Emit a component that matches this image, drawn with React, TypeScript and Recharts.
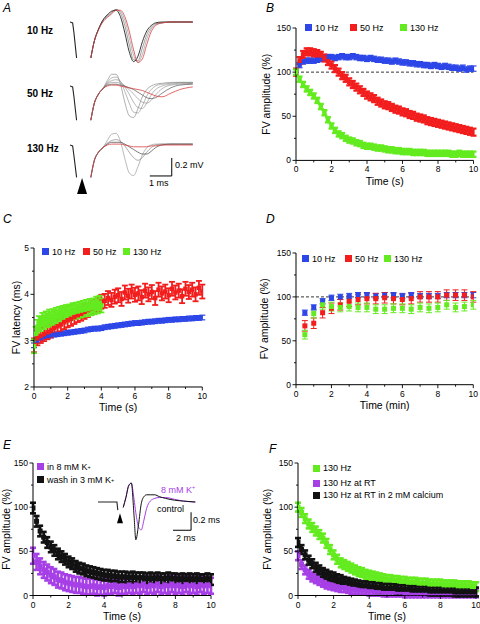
import React from 'react';
import {
  ScatterChart, Scatter, XAxis, YAxis, ErrorBar, ReferenceLine, ReferenceDot, LineChart, Line,
} from 'recharts';

const FONT = 'Arial, "Liberation Sans", Helvetica, sans-serif';

const BLUE = '#2c46e8';
const RED = '#f21d1d';
const GREEN = '#63eb1f';
const PURPLE = '#a640e6';
const BLACK = '#121212';

// ---- time bases ----
const time02 = [0, 0.2, 0.4, 0.6, 0.8, 1, 1.2, 1.4, 1.6, 1.8, 2, 2.2, 2.4, 2.6, 2.8, 3, 3.2, 3.4, 3.6, 3.8,
  4, 4.2, 4.4, 4.6, 4.8, 5, 5.2, 5.4, 5.6, 5.8, 6, 6.2, 6.4, 6.6, 6.8, 7, 7.2, 7.4, 7.6, 7.8,
  8, 8.2, 8.4, 8.6, 8.8, 9, 9.2, 9.4, 9.6, 9.8, 10];
const time01to4 = [0, 0.1, 0.2, 0.3, 0.4, 0.5, 0.6, 0.7, 0.8, 0.9, 1, 1.1, 1.2, 1.3, 1.4, 1.5, 1.6, 1.7, 1.8, 1.9,
  2, 2.1, 2.2, 2.3, 2.4, 2.5, 2.6, 2.7, 2.8, 2.9, 3, 3.1, 3.2, 3.3, 3.4, 3.5, 3.6, 3.7, 3.8, 3.9, 4];
const timeMin = [0.5, 1, 1.5, 2, 2.5, 3, 3.5, 4, 4.5, 5, 5.5, 6, 6.5, 7, 7.5, 8, 8.5, 9, 9.5, 10];

// ---- B: FV amplitude (%) during trains ----
const ampB10 = [100, 108, 112, 113, 113, 113, 114, 115, 116, 117, 117, 116, 117, 118, 117, 117, 118, 117, 116, 116,
  115, 116, 115, 114, 114, 113, 113, 112, 113, 112, 111, 111, 110, 110, 109, 109, 108, 108, 107, 108,
  107, 106, 107, 106, 105, 105, 104, 105, 103, 104, 104];
const ampB50 = [100, 113, 120, 123, 123, 122, 121, 119, 116, 112, 108, 104, 100, 96, 93, 89, 86, 83, 80, 77,
  74, 72, 70, 67, 65, 63, 62, 60, 58, 57, 55, 54, 52, 51, 49, 48, 47, 45, 44, 43,
  42, 41, 40, 39, 38, 37, 36, 35, 34, 33, 32];
const ampB130 = [100, 92, 86, 81, 77, 73, 68, 61, 54, 46, 39, 34, 30, 28, 25, 23, 22, 20, 19, 17,
  16, 16, 15, 14, 14, 13, 12, 12, 11, 11, 10, 10, 10, 9, 9, 9, 9, 8, 8, 8,
  8, 8, 8, 8, 7, 7, 8, 7, 7, 7, 7];

// ---- C: FV latency (ms) ----
const latC10 = [2.9, 3.0, 3.05, 3.08, 3.1, 3.11, 3.13, 3.14, 3.15, 3.16, 3.17, 3.18, 3.19, 3.2, 3.21, 3.22, 3.24, 3.25, 3.26, 3.26,
  3.27, 3.29, 3.3, 3.31, 3.32, 3.33, 3.34, 3.35, 3.36, 3.37, 3.38, 3.38, 3.39, 3.4, 3.41, 3.41, 3.42, 3.43, 3.43, 3.44,
  3.45, 3.45, 3.46, 3.46, 3.47, 3.47, 3.48, 3.48, 3.49, 3.49, 3.5];
const latC50 = [2.9, 3.05, 3.1, 3.14, 3.18, 3.22, 3.27, 3.31, 3.35, 3.4, 3.44, 3.47, 3.51, 3.55, 3.58, 3.62, 3.66, 3.7, 3.74, 3.78,
  3.84, 3.86, 3.92, 3.88, 3.95, 3.98, 3.9, 4.04, 3.97, 4.06, 3.99, 4.02, 3.94, 4.08, 4.0, 4.05, 3.92, 4.1, 4.02, 4.06,
  3.98, 4.12, 4.04, 4.08, 3.96, 4.12, 4.05, 4.1, 4.0, 4.14, 4.06];
const latC130 = [2.88, 3.15, 3.3, 3.38, 3.35, 3.45, 3.4, 3.48, 3.44, 3.52, 3.47, 3.53, 3.5, 3.56, 3.51, 3.58, 3.54, 3.6, 3.56, 3.62,
  3.58, 3.63, 3.6, 3.66, 3.62, 3.67, 3.63, 3.69, 3.65, 3.71, 3.67, 3.73, 3.68, 3.75, 3.7, 3.76, 3.72, 3.8, 3.74, 3.82, 3.76];

// ---- D: recovery (%) ----
const recD10 = [82, 88, 95, 99, 100, 101, 102, 102, 101, 102, 102, 101, 102, 101, 101, 101, 102, 102, 102, 102];
const recD50 = [67, 70, 82, 87, 91, 95, 97, 98, 98, 99, 98, 97, 98, 100, 100, 100, 102, 102, 102, 100];
const recD130 = [57, 81, 91, 89, 88, 89, 88, 88, 86, 86, 87, 87, 86, 88, 87, 88, 91, 88, 89, 91];

// ---- E: high K+ ----
const ampEWash = [99, 84, 73, 66, 60, 55, 51, 47, 44, 41, 38, 36, 33, 31, 30, 28, 27, 26, 25, 24,
  23, 23, 22, 22, 21, 21, 21, 20, 21, 20, 20, 20, 19, 20, 19, 20, 19, 19, 20, 19,
  19, 18, 19, 18, 19, 18, 19, 18, 18, 19, 18];
const ampEK8 = [45, 38, 33, 29, 26, 23, 21, 18, 17, 15, 14, 13, 12, 12, 11, 10, 10, 11, 9, 10,
  9, 11, 10, 12, 9, 11, 10, 12, 10, 12, 11, 13, 10, 12, 11, 13, 10, 12, 11, 13,
  11, 12, 10, 13, 11, 12, 10, 13, 11, 12, 11];

// ---- F: temperature / calcium ----
const ampF130 = [100, 94, 87, 81, 77, 73, 69, 65, 59, 52, 46, 41, 37, 35, 33, 31, 29, 27, 26, 24,
  23, 22, 21, 20, 19, 18, 18, 17, 17, 16, 16, 15, 15, 15, 14, 14, 14, 13, 13, 13,
  13, 12, 12, 12, 12, 11, 11, 11, 11, 10, 10];
const ampFRT = [45, 35, 29, 24, 21, 19, 17, 15, 13, 12, 11, 10, 9, 9, 8, 7, 7, 6, 6, 6,
  5, 5, 5, 5, 4, 4, 4, 4, 4, 4, 3, 3, 3, 3, 3, 3, 3, 3, 3, 3,
  3, 3, 3, 3, 3, 3, 3, 3, 3, 3, 3];
const ampFCa = [60, 52, 46, 40, 36, 32, 29, 26, 24, 22, 21, 19, 18, 16, 15, 14, 13, 12, 11, 11,
  10, 10, 9, 9, 8, 8, 8, 8, 7, 7, 7, 7, 6, 6, 6, 6, 6, 5, 5, 5,
  5, 5, 5, 5, 4, 4, 4, 4, 4, 4, 4];

// ---- A: field volley traces (ms, mV) ----
const artT = [0, 0.12, 0.18, 0.3];
const traceT = [0.95, 1.1, 1.3, 1.5, 1.7, 1.9, 2.1, 2.3, 2.5, 2.7, 2.9, 3.1, 3.3, 3.5, 3.7, 3.9, 4.2, 4.6, 5.0, 5.6];
const art10 = [0, -0.01, -0.12, -0.4];
const art50 = [0, -0.01, -0.12, -0.38];
const art130 = [0, -0.01, -0.12, -0.36];
const w10a = [-0.4, -0.22, -0.08, 0.02, 0.08, 0.12, 0.13, 0.06, -0.12, -0.33, -0.44, -0.38, -0.22, -0.1, -0.04, -0.01, 0, 0, 0, 0];
const w10b = [-0.4, -0.22, -0.08, 0.02, 0.07, 0.11, 0.14, 0.1, -0.04, -0.25, -0.42, -0.43, -0.29, -0.14, -0.06, -0.02, -0.01, 0, 0, 0];
const w10c = [-0.4, -0.22, -0.08, 0.01, 0.06, 0.1, 0.14, 0.12, 0.02, -0.17, -0.37, -0.45, -0.36, -0.19, -0.08, -0.03, -0.01, 0, 0, 0];
const w10d = [-0.4, -0.22, -0.09, 0.0, 0.05, 0.09, 0.13, 0.13, 0.06, -0.1, -0.31, -0.45, -0.41, -0.25, -0.11, -0.04, -0.01, 0, 0, 0];
const w50a = [-0.38, -0.2, -0.09, -0.03, 0.06, 0.13, 0.13, 0.02, -0.18, -0.33, -0.35, -0.25, -0.12, -0.04, 0.0, 0.02, 0.03, 0.04, 0.04, 0.04];
const w50b = [-0.38, -0.2, -0.09, -0.03, 0.04, 0.09, 0.1, 0.05, -0.06, -0.19, -0.29, -0.3, -0.22, -0.11, -0.04, 0.0, 0.02, 0.03, 0.04, 0.04];
const w50c = [-0.38, -0.2, -0.09, -0.03, 0.03, 0.06, 0.07, 0.05, -0.01, -0.09, -0.18, -0.24, -0.25, -0.19, -0.1, -0.04, 0.0, 0.02, 0.03, 0.03];
const w50d = [-0.38, -0.2, -0.09, -0.03, 0.02, 0.04, 0.04, 0.03, 0.0, -0.04, -0.09, -0.14, -0.18, -0.19, -0.16, -0.1, -0.03, 0.01, 0.02, 0.03];
const w50e = [-0.38, -0.2, -0.09, -0.03, 0.01, 0.02, 0.02, 0.01, 0.0, -0.02, -0.04, -0.07, -0.1, -0.13, -0.14, -0.13, -0.08, -0.02, 0.01, 0.02];
const w50f = [-0.38, -0.2, -0.09, -0.03, 0.0, 0.01, 0.01, 0.0, -0.01, -0.02, -0.03, -0.04, -0.05, -0.07, -0.09, -0.11, -0.12, -0.08, -0.04, -0.01];
const w130a = [-0.36, -0.18, -0.08, -0.03, 0.05, 0.12, 0.13, 0.04, -0.15, -0.31, -0.34, -0.24, -0.11, -0.03, 0.0, 0.01, 0.01, 0.01, 0.01, 0.01];
const w130b = [-0.36, -0.18, -0.08, -0.03, 0.02, 0.05, 0.06, 0.04, -0.01, -0.08, -0.14, -0.17, -0.14, -0.08, -0.03, 0.0, 0.01, 0.01, 0.01, 0.01];
const w130c = [-0.36, -0.18, -0.08, -0.03, 0.01, 0.03, 0.03, 0.03, 0.01, -0.02, -0.05, -0.08, -0.1, -0.1, -0.07, -0.03, 0.0, 0.01, 0.01, 0.01];
const w130d = [-0.36, -0.18, -0.08, -0.03, 0.0, 0.01, 0.01, 0.01, 0.0, -0.01, -0.02, -0.02, -0.02, -0.02, -0.01, -0.01, 0.0, 0.0, 0.0, 0.0];

// ---- E inset traces ----
const insetArtT = [0, 2.1, 2.2];
const insetArt = [0, 0, -0.09];
const insetT = [2.8, 3.1, 3.4, 3.7, 4.0, 4.2, 4.5, 4.8, 5.1, 5.4, 5.8, 6.3, 6.8, 7.5, 8.5, 9.5, 10.8];
const insetCtrl = [-0.06, 0.05, 0.18, 0.21, -0.15, -0.42, -0.25, -0.02, 0.06, 0.08, 0.08, 0.08, 0.06, 0.04, 0.02, 0.01, 0.0];
const insetK8 = [-0.06, 0.05, 0.18, 0.21, 0.03, -0.12, -0.28, -0.31, -0.2, -0.07, 0.01, 0.04, 0.05, 0.05, 0.03, 0.01, 0.0];

const xTicks10 = [0, 1, 2, 3, 4, 5, 6, 7, 8, 9, 10];
const xMajor10 = [0, 2, 4, 6, 8, 10];
const yTicksAmp = [0, 25, 50, 75, 100, 125, 150];
const yMajorAmp = [0, 50, 100, 150];
const yTicksLat = [2, 2.5, 3, 3.5, 4, 4.5, 5];
const yMajorLat = [2, 3, 4, 5];

type Pt = { x: number; y: number; err: number };
type Ser = { key: string; color: string; pts: Pt[]; size: number; errW?: number };

const toPts = (xs: number[], ys: number[], err: number): Pt[] => xs.map((x, i) => ({ x, y: ys[i], err }));
const toRows = (xs: number[], cols: Record<string, number[]>) =>
  xs.map((t, i) => {
    const r: any = { t };
    Object.keys(cols).forEach((k) => { r[k] = cols[k][i]; });
    return r;
  });

const TS = 3;
const TM = 2;

function xTick(majors: number[]) {
  return (p: any) => {
    const v = p.payload.value;
    const major = majors.includes(v);
    const ay = p.y - TS - TM;
    return (
      <g>
        <line x1={p.x} x2={p.x} y1={ay} y2={ay + (major ? 3.5 : 2)} stroke="#000" strokeWidth={0.9} />
        {major && (
          <text x={p.x} y={ay + 12} textAnchor="middle" fontSize={8.5} fontFamily={FONT} fill="#000">{v}</text>
        )}
      </g>
    );
  };
}

function yTick(majors: number[]) {
  return (p: any) => {
    const v = p.payload.value;
    const major = majors.includes(v);
    const ax = p.x + TS + TM;
    return (
      <g>
        <line x1={ax - (major ? 3.5 : 2)} x2={ax} y1={p.y} y2={p.y} stroke="#000" strokeWidth={0.9} />
        {major && (
          <text x={ax - 5} y={p.y + 3} textAnchor="end" fontSize={8.5} fontFamily={FONT} fill="#000">{v}</text>
        )}
      </g>
    );
  };
}

const square = (size: number, color: string) => (p: any) =>
  <rect x={p.cx - size / 2} y={p.cy - size / 2} width={size} height={size} fill={color} />;

interface PanelProps {
  x0: number; y0: number; x1: number; y1: number; yw: number; titleX: number;
  xDomain: [number, number]; yDomain: [number, number];
  yTicks: number[]; yMajor: number[];
  xTitle: string; yTitle: string;
  series: Ser[]; dashed?: boolean;
}

function Panel({ x0, y0, x1, y1, yw, titleX, xDomain, yDomain, yTicks, yMajor, xTitle, yTitle, series, dashed }: PanelProps) {
  const MT = 6, MR = 8, XH = 28;
  const width = x1 - x0 + yw + MR;
  const height = y1 - y0 + MT + XH;
  return (
    <div style={{ position: 'absolute', left: x0 - yw, top: y0 - MT }}>
      <ScatterChart width={width} height={height} margin={{ top: MT, right: MR, bottom: 0, left: 0 }}>
        <XAxis
          type="number" dataKey="x" domain={xDomain} ticks={xTicks10} interval={0} height={XH}
          tick={xTick(xMajor10)} tickLine={false} tickSize={TS} tickMargin={TM}
          axisLine={{ stroke: '#000', strokeWidth: 1 }} allowDataOverflow
          label={{ value: xTitle, position: 'insideBottom', offset: 3.5, fontSize: 10.5, fill: '#000', fontFamily: FONT }}
        />
        <YAxis
          type="number" dataKey="y" domain={yDomain} ticks={yTicks} interval={0} width={yw}
          tick={yTick(yMajor)} tickLine={false} tickSize={TS} tickMargin={TM}
          axisLine={{ stroke: '#000', strokeWidth: 1 }} allowDataOverflow
          label={{
            value: yTitle, angle: -90, position: 'insideLeft', offset: titleX - (x0 - yw),
            fontSize: 10.5, fill: '#000', fontFamily: FONT, style: { textAnchor: 'middle' },
          }}
        />
        {dashed && <ReferenceLine y={100} stroke="#000" strokeWidth={0.8} strokeDasharray="3 2" />}
        {series.map((s) => (
          <Scatter key={s.key} data={s.pts} fill={s.color} shape={square(s.size, s.color)} isAnimationActive={false}>
            <ErrorBar dataKey="err" direction="y" width={3} stroke={s.color} strokeWidth={s.errW ?? 1} />
          </Scatter>
        ))}
      </ScatterChart>
    </div>
  );
}

interface TraceLine { key: string; color: string; w: number }

function Traces({ left, top, width, height, xMax, yDomain, rows, lines, art, children }: {
  left: number; top: number; width: number; height: number; xMax: number; yDomain: [number, number];
  rows: any[]; lines: TraceLine[]; art: { t: number; v: number }[]; children?: React.ReactNode;
}) {
  return (
    <div style={{ position: 'absolute', left, top }}>
      <LineChart width={width} height={height} data={rows} margin={{ top: 0, right: 0, bottom: 0, left: 0 }}>
        <XAxis hide type="number" dataKey="t" domain={[0, xMax]} allowDataOverflow />
        <YAxis hide type="number" domain={yDomain} allowDataOverflow />
        <Line data={art} dataKey="v" type="linear" stroke="#222" strokeWidth={1.1} dot={false} isAnimationActive={false} />
        {lines.map((l) => (
          <Line key={l.key} dataKey={l.key} type="monotone" stroke={l.color} strokeWidth={l.w} dot={false} isAnimationActive={false} />
        ))}
        {children}
      </LineChart>
    </div>
  );
}

const arrow = (w: number, h: number) => (p: any) =>
  <polygon points={`${p.cx},${p.cy} ${p.cx - w / 2},${p.cy + h} ${p.cx + w / 2},${p.cy + h}`} fill="#000" />;

function Txt({ left, top, size = 9, children, style }: { left: number; top: number; size?: number; children: React.ReactNode; style?: React.CSSProperties }) {
  return (
    <div style={{ position: 'absolute', left, top, fontSize: size, lineHeight: 1, whiteSpace: 'nowrap', fontFamily: FONT, color: '#000', ...style }}>
      {children}
    </div>
  );
}

function Key({ left, cy, color, children }: { left: number; cy: number; color: string; children: React.ReactNode }) {
  return (
    <div style={{ position: 'absolute', left, top: cy - 5, height: 10, display: 'flex', alignItems: 'center', fontSize: 9, fontFamily: FONT, whiteSpace: 'nowrap' }}>
      <span style={{ width: 7, height: 7, background: color, display: 'inline-block', marginRight: 3 }} />
      {children}
    </div>
  );
}

const Kp = () => <>K<sup style={{ fontSize: 5.5, verticalAlign: 'super', lineHeight: 0 }}>+</sup></>;

export default function App() {
  const rows10 = toRows(traceT, { a: w10a, b: w10b, c: w10c, d: w10d });
  const rows50 = toRows(traceT, { a: w50a, b: w50b, c: w50c, d: w50d, e: w50e, f: w50f });
  const rows130 = toRows(traceT, { a: w130a, b: w130b, c: w130c, d: w130d });
  const artRows = (v: number[]) => artT.map((t, i) => ({ t, v: v[i] }));
  const insetRows = toRows(insetT, { ctrl: insetCtrl, k8: insetK8 });
  const insetArtRows = insetArtT.map((t, i) => ({ t, v: insetArt[i] }));

  const letter = { fontStyle: 'italic', fontSize: 12 } as React.CSSProperties;

  return (
    <div style={{ position: 'relative', width: 480, height: 624, background: '#fff', overflow: 'hidden', fontFamily: FONT }}>
      <style>{'body{margin:0}'}</style>

      {/* A */}
      <Txt left={3} top={2} style={letter}>A</Txt>
      <Txt left={27} top={25.5} size={10} style={{ fontWeight: 'bold' }}>10 Hz</Txt>
      <Txt left={27} top={88.5} size={10} style={{ fontWeight: 'bold' }}>50 Hz</Txt>
      <Txt left={27} top={143.5} size={10} style={{ fontWeight: 'bold' }}>130 Hz</Txt>
      <Traces left={70} top={4} width={125} height={63} xMax={5.7} yDomain={[-0.5, 0.2]} rows={rows10} art={artRows(art10)}
        lines={[
          { key: 'c', color: '#9a9a9a', w: 0.7 }, { key: 'b', color: '#777', w: 0.7 },
          { key: 'a', color: '#222', w: 0.9 }, { key: 'd', color: '#d94040', w: 0.8 },
        ]} />
      <Traces left={70} top={68} width={125} height={63} xMax={5.7} yDomain={[-0.5, 0.2]} rows={rows50} art={artRows(art50)}
        lines={[
          { key: 'a', color: '#777', w: 0.6 }, { key: 'b', color: '#888', w: 0.6 }, { key: 'c', color: '#888', w: 0.6 },
          { key: 'd', color: '#888', w: 0.6 }, { key: 'e', color: '#555', w: 0.7 }, { key: 'f', color: '#d94040', w: 0.8 },
        ]} />
      <Traces left={70} top={127} width={125} height={72} xMax={5.7} yDomain={[-0.6, 0.2]} rows={rows130} art={artRows(art130)}
        lines={[
          { key: 'a', color: '#8a8a8a', w: 0.6 }, { key: 'b', color: '#777', w: 0.6 },
          { key: 'c', color: '#444', w: 0.7 }, { key: 'd', color: '#d94040', w: 0.8 },
        ]}>
        <ReferenceLine segment={[{ x: 4.64, y: -0.344 }, { x: 4.64, y: -0.144 }]} stroke="#000" strokeWidth={1} />
        <ReferenceLine segment={[{ x: 3.64, y: -0.344 }, { x: 4.64, y: -0.344 }]} stroke="#000" strokeWidth={1} />
        <ReferenceDot x={0.55} y={-0.367} r={0} shape={arrow(10, 16)} />
      </Traces>
      <Txt left={175} top={161} size={9}>0.2 mV</Txt>
      <Txt left={149} top={179} size={9}>1 ms</Txt>

      {/* B */}
      <Txt left={266} top={1.5} style={letter}>B</Txt>
      <Panel x0={296} y0={28.3} x1={473.5} y1={160.7} yw={38} titleX={266}
        xDomain={[0, 10]} yDomain={[0, 150]} yTicks={yTicksAmp} yMajor={yMajorAmp}
        xTitle="Time (s)" yTitle="FV amplitude (%)" dashed
        series={[
          { key: 'b10', color: BLUE, pts: toPts(time02, ampB10, 3), size: 4.5, errW: 1.2 },
          { key: 'b50', color: RED, pts: toPts(time02, ampB50, 4), size: 4.5, errW: 2.2 },
          { key: 'b130', color: GREEN, pts: toPts(time02, ampB130, 3), size: 4.5, errW: 2.2 },
        ]} />
      <Key left={305} cy={27.5} color={BLUE}>10 Hz</Key>
      <Key left={350} cy={27.5} color={RED}>50 Hz</Key>
      <Key left={400} cy={27.5} color={GREEN}>130 Hz</Key>

      {/* C */}
      <Txt left={3} top={212.5} style={letter}>C</Txt>
      <Panel x0={34} y0={247.7} x1={202.3} y1={386.7} yw={32} titleX={16}
        xDomain={[0, 10]} yDomain={[2, 5]} yTicks={yTicksLat} yMajor={yMajorLat}
        xTitle="Time (s)" yTitle="FV latency (ms)"
        series={[
          { key: 'c10', color: BLUE, pts: toPts(time02, latC10, 0.05), size: 4, errW: 1.2 },
          { key: 'c50', color: RED, pts: toPts(time02, latC50, 0.15), size: 4.5, errW: 1.8 },
          { key: 'c130', color: GREEN, pts: toPts(time01to4, latC130, 0.15), size: 4.5, errW: 1.8 },
        ]} />
      <Key left={42} cy={251.5} color={BLUE}>10 Hz</Key>
      <Key left={83} cy={251.5} color={RED}>50 Hz</Key>
      <Key left={123} cy={251.5} color={GREEN}>130 Hz</Key>

      {/* D */}
      <Txt left={266} top={212.5} style={letter}>D</Txt>
      <Panel x0={296} y0={253.3} x1={473.3} y1={385} yw={38} titleX={264}
        xDomain={[0, 10]} yDomain={[0, 150]} yTicks={yTicksAmp} yMajor={yMajorAmp}
        xTitle="Time (min)" yTitle="FV amplitude (%)" dashed
        series={[
          { key: 'd10', color: BLUE, pts: toPts(timeMin, recD10, 3), size: 5 },
          { key: 'd50', color: RED, pts: toPts(timeMin, recD50, 6), size: 5 },
          { key: 'd130', color: GREEN, pts: toPts(timeMin, recD130, 5), size: 5 },
        ]} />
      <Key left={302} cy={258.5} color={BLUE}>10 Hz</Key>
      <Key left={345} cy={258.5} color={RED}>50 Hz</Key>
      <Key left={384} cy={258.5} color={GREEN}>130 Hz</Key>

      {/* E */}
      <Txt left={3} top={438.5} style={letter}>E</Txt>
      <Panel x0={32.7} y0={463} x1={210.7} y1={595.5} yw={33} titleX={6}
        xDomain={[0, 10]} yDomain={[0, 150]} yTicks={yTicksAmp} yMajor={yMajorAmp}
        xTitle="Time (s)" yTitle="FV amplitude (%)"
        series={[
          { key: 'eK8', color: PURPLE, pts: toPts(time02, ampEK8, 9), size: 5, errW: 2.6 },
          { key: 'eWash', color: BLACK, pts: toPts(time02, ampEWash, 6), size: 5, errW: 2.6 },
        ]} />
      <Key left={37} cy={466.5} color={PURPLE}>in 8 mM <Kp /></Key>
      <Key left={37} cy={479.5} color={BLACK}>wash in 3 mM <Kp /></Key>
      <Traces left={98} top={474.7} width={100} height={72} xMax={11.1} yDomain={[-0.5, 0.3]} rows={insetRows} art={insetArtRows}
        lines={[{ key: 'k8', color: PURPLE, w: 1 }, { key: 'ctrl', color: '#111', w: 1 }]}>
        <ReferenceLine segment={[{ x: 10.33, y: -0.314 }, { x: 10.33, y: -0.114 }]} stroke="#000" strokeWidth={1} />
        <ReferenceLine segment={[{ x: 8.33, y: -0.314 }, { x: 10.33, y: -0.314 }]} stroke="#000" strokeWidth={1} />
        <ReferenceDot x={2.44} y={-0.126} r={0} shape={arrow(6, 10)} />
      </Traces>
      <Txt left={161} top={485.5} size={9} style={{ color: PURPLE }}>8 mM <Kp /></Txt>
      <Txt left={157} top={504.5} size={9}>control</Txt>
      <Txt left={193} top={516} size={9}>0.2 ms</Txt>
      <Txt left={176} top={533.5} size={9}>2 ms</Txt>

      {/* F */}
      <Txt left={269} top={442.5} style={letter}>F</Txt>
      <Panel x0={297.7} y0={463} x1={475.7} y1={595.5} yw={38} titleX={267}
        xDomain={[0, 10]} yDomain={[0, 150]} yTicks={yTicksAmp} yMajor={yMajorAmp}
        xTitle="Time (s)" yTitle="FV amplitude (%)"
        series={[
          { key: 'f130', color: GREEN, pts: toPts(time02, ampF130, 5), size: 5, errW: 2.6 },
          { key: 'fRT', color: PURPLE, pts: toPts(time02, ampFRT, 5), size: 5, errW: 2.6 },
          { key: 'fCa', color: BLACK, pts: toPts(time02, ampFCa, 5), size: 5, errW: 2.6 },
        ]} />
      <Key left={313} cy={468} color={GREEN}>130 Hz</Key>
      <Key left={313} cy={483} color={PURPLE}>130 Hz at RT</Key>
      <Key left={313} cy={495} color={BLACK}>130 Hz at RT in 2 mM calcium</Key>
    </div>
  );
}
